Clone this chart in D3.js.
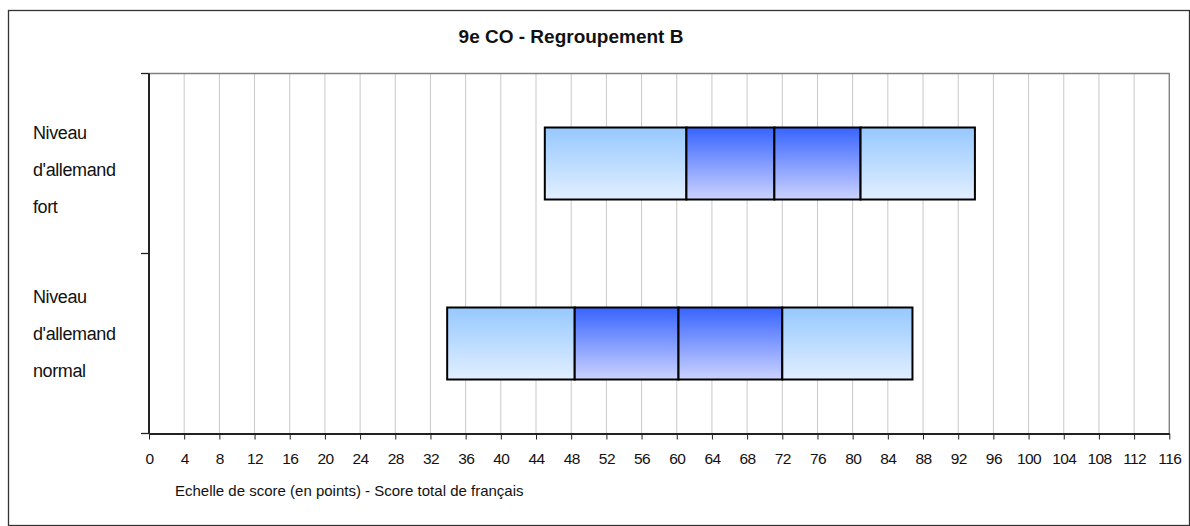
<!DOCTYPE html>
<html><head><meta charset="utf-8">
<script src="https://cdn.jsdelivr.net/npm/d3@7"></script>
<style>body{margin:0;background:#fff}svg{display:block}text{font-family:"Liberation Sans",Arial,sans-serif}</style>
</head><body><svg id="c" width="1190" height="526"></svg>
<script>
const title = "9e CO - Regroupement B";
const axisTitle = "Echelle de score (en points) - Score total de français";
const categories = ["fort", "normal"];
const categoryLabels = [["Niveau","d'allemand","fort"],["Niveau","d'allemand","normal"]];
const minVals    = [45.0, 33.9];
const q1Vals     = [61.1, 48.4];
const medianVals = [71.1, 60.2];
const q3Vals     = [80.9, 72.0];
const maxVals    = [93.9, 86.8];
const xTicks = d3.range(0, 117, 4);

const svg = d3.select("#c");
const L = 149, R = 1169.3, T = 73.5, B = 433.5;

// outer frame
svg.append("rect").attr("x",8.5).attr("y",10.5).attr("width",1181).attr("height",515)
  .attr("fill","none").attr("stroke","#333").attr("stroke-width",1.3);

const x = d3.scaleLinear().domain([0,116]).range([L,R]);
const y = d3.scaleBand().domain(categories).range([T,B]).paddingInner(0.6).paddingOuter(0.3);

const defs = svg.append("defs");
function grad(id, c1, c2){
  const g = defs.append("linearGradient").attr("id",id).attr("x1",0).attr("y1",0).attr("x2",0).attr("y2",1);
  g.append("stop").attr("offset","0%").attr("stop-color",c1);
  g.append("stop").attr("offset","100%").attr("stop-color",c2);
}
grad("gOuter","#96c8ff","#e2efff");
grad("gInner","#3864ff","#ccd3ff");

// gridlines
svg.append("g").selectAll("line").data(xTicks.slice(1)).join("line")
  .attr("x1",d=>x(d)).attr("x2",d=>x(d)).attr("y1",T).attr("y2",B)
  .attr("stroke","#c8c8c8").attr("stroke-width",1);

// plot border (top/right)
svg.append("path").attr("d",`M${L},${T}H${R}V${B}`).attr("fill","none").attr("stroke","#808080").attr("stroke-width",1.3);

// segments
const segs = [];
categories.forEach((c,i)=>{
  const bounds = [minVals[i], q1Vals[i], medianVals[i], q3Vals[i], maxVals[i]];
  for(let k=0;k<4;k++) segs.push({c, a:bounds[k], b:bounds[k+1], inner:(k===1||k===2)});
});
svg.append("g").selectAll("rect").data(segs).join("rect")
  .attr("x",d=>x(d.a)).attr("width",d=>x(d.b)-x(d.a))
  .attr("y",d=>y(d.c)).attr("height",y.bandwidth())
  .attr("fill",d=>d.inner?"url(#gInner)":"url(#gOuter)")
  .attr("stroke","#000").attr("stroke-width",2);

// x axis
const xAxis = svg.append("g").attr("transform",`translate(0,${B})`)
  .call(d3.axisBottom(x).tickValues(xTicks).tickSize(6).tickPadding(13).tickSizeOuter(0));
xAxis.select(".domain").attr("stroke","#222").attr("stroke-width",2);
xAxis.selectAll(".tick line").attr("stroke","#222");
xAxis.selectAll("text").attr("font-size",15.5).attr("fill","#111").attr("font-family","Liberation Sans, Arial, sans-serif").attr("letter-spacing","-0.6");

// y axis line and ticks
const ybounds = [T, ...categories.slice(1).map(c=>y(c)-(y.step()-y.bandwidth())/2), B];
svg.append("line").attr("x1",L).attr("x2",L).attr("y1",T).attr("y2",B).attr("stroke","#222").attr("stroke-width",2);
svg.append("g").selectAll("line").data(ybounds).join("line")
  .attr("x1",L-8).attr("x2",L).attr("y1",d=>d).attr("y2",d=>d).attr("stroke","#222").attr("stroke-width",1.3);

// category labels
const labelShift = [6.5, -10];
categories.forEach((c,i)=>{
  const cy = y(c)+y.bandwidth()/2 + labelShift[i];
  const t = svg.append("text").attr("x",33).attr("font-size",18).attr("fill","#111").attr("letter-spacing","-0.4");
  categoryLabels[i].forEach((ln,j)=>{
    t.append("tspan").attr("x",33).attr("y",cy+(j-1)*37+6).text(ln);
  });
});

// title
svg.append("text").attr("x",571).attr("y",43).attr("text-anchor","middle")
  .attr("font-size",19).attr("font-weight","bold").attr("fill","#111").text(title);

// axis title
svg.append("text").attr("x",175).attr("y",496).attr("font-size",15).attr("fill","#111").text(axisTitle);
</script></body></html>
